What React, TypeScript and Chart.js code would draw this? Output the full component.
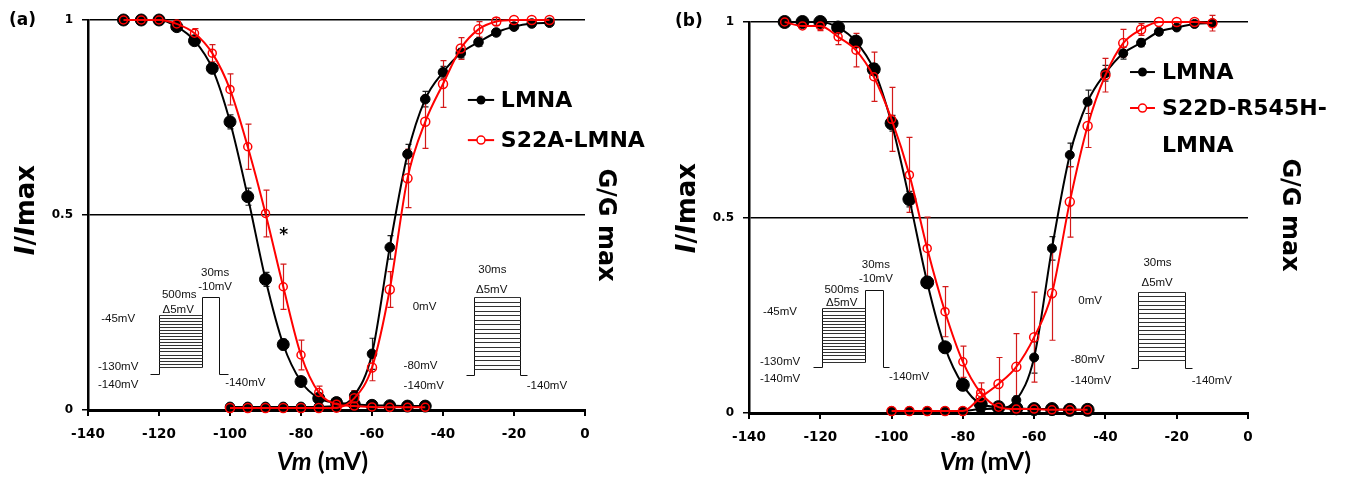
import React, { useEffect, useRef } from "react";
import { Chart, registerables } from "chart.js";

Chart.register(...registerables);

// ---------------- data ----------------
const inactV = [-130, -125, -120, -115, -110, -105, -100, -95, -90, -85, -80, -75, -70, -65, -60, -55, -50, -45];
const actV = [-100, -95, -90, -85, -80, -75, -70, -65, -60, -55, -50, -45, -40, -35, -30, -25, -20, -15, -10];
const xTickValues = [-140, -120, -100, -80, -60, -40, -20, 0];
const yTickValues = [0, 0.5, 1];

// panel (a)
const lmnaInactA = [1.0, 1.0, 1.0, 0.983, 0.947, 0.876, 0.739, 0.547, 0.335, 0.168, 0.073, 0.03, 0.019, 0.015, 0.012, 0.011, 0.01, 0.01];
const lmnaInactErrA = [0, 0, 0, 0.006, 0.008, 0.012, 0.018, 0.022, 0.018, 0.014, 0.01, 0.008, 0.005, 0.004, 0.004, 0.004, 0.004, 0.004];
const s22aInactA = [1.0, 1.0, 1.0, 0.99, 0.966, 0.915, 0.822, 0.675, 0.504, 0.316, 0.141, 0.045, 0.015, 0.01, 0.008, 0.007, 0.007, 0.007];
const s22aInactErrA = [0, 0, 0, 0.006, 0.012, 0.022, 0.04, 0.058, 0.06, 0.058, 0.038, 0.016, 0.006, 0.004, 0.004, 0.004, 0.004, 0.004];
const lmnaActA = [0.008, 0.008, 0.008, 0.008, 0.008, 0.008, 0.01, 0.037, 0.144, 0.417, 0.656, 0.797, 0.866, 0.915, 0.943, 0.968, 0.983, 0.991, 0.993];
const lmnaActErrA = [0.003, 0.003, 0.003, 0.003, 0.003, 0.003, 0.003, 0.012, 0.04, 0.03, 0.025, 0.02, 0.015, 0.012, 0.01, 0.008, 0.005, 0.004, 0.004];
const s22aActA = [0.005, 0.005, 0.005, 0.005, 0.005, 0.005, 0.006, 0.03, 0.109, 0.309, 0.594, 0.739, 0.836, 0.927, 0.976, 0.996, 1.0, 1.0, 1.0];
const s22aActErrA = [0.003, 0.003, 0.003, 0.003, 0.003, 0.003, 0.003, 0.02, 0.034, 0.046, 0.075, 0.068, 0.06, 0.028, 0.02, 0.01, 0.005, 0.003, 0.003];

// panel (b)
const lmnaInactB = [1.0, 1.0, 1.0, 0.986, 0.95, 0.879, 0.741, 0.547, 0.334, 0.168, 0.072, 0.023, 0.015, 0.012, 0.01, 0.01, 0.008, 0.008];
const lmnaInactErrB = [0, 0, 0.004, 0.006, 0.01, 0.014, 0.02, 0.02, 0.015, 0.012, 0.01, 0.006, 0.005, 0.004, 0.004, 0.004, 0.004, 0.004];
const r545InactB = [1.0, 0.99, 0.99, 0.962, 0.928, 0.86, 0.751, 0.609, 0.421, 0.259, 0.131, 0.052, 0.015, 0.01, 0.01, 0.008, 0.008, 0.008];
const r545InactErrB = [0.004, 0.005, 0.012, 0.02, 0.043, 0.063, 0.082, 0.096, 0.08, 0.064, 0.04, 0.025, 0.01, 0.005, 0.005, 0.005, 0.005, 0.005];
const lmnaActB = [0.005, 0.005, 0.005, 0.005, 0.005, 0.01, 0.012, 0.033, 0.142, 0.421, 0.66, 0.796, 0.869, 0.92, 0.947, 0.975, 0.986, 0.995, 0.997];
const lmnaActErrB = [0.003, 0.003, 0.003, 0.003, 0.003, 0.004, 0.005, 0.01, 0.04, 0.03, 0.03, 0.03, 0.02, 0.015, 0.01, 0.008, 0.005, 0.004, 0.004];
const r545ActB = [0.005, 0.005, 0.005, 0.005, 0.005, 0.04, 0.074, 0.118, 0.194, 0.306, 0.54, 0.734, 0.864, 0.946, 0.981, 1.0, 1.0, 1.0, 0.997];
const r545ActErrB = [0.003, 0.003, 0.003, 0.003, 0.003, 0.02, 0.068, 0.085, 0.115, 0.12, 0.09, 0.055, 0.043, 0.035, 0.015, 0.005, 0.003, 0.003, 0.02];

const legendA = ["LMNA", "S22A-LMNA"];
const legendB = ["LMNA", "S22D-R545H-", "LMNA"];

// ---------------- styles ----------------
const BLACK = "#000000";
const RED = "#ff0000";
const RED_ERR = "#d41a1a";
const BOLD_FONT = "DejaVu Sans";
const TITLE_FONT = "Lato";
const INSET_FONT = "Liberation Sans";

type Series = { xs: number[]; ys: number[]; errs: number[]; red: boolean; radius: number };
type Label = { t: string; x: number; y: number; align: CanvasTextAlign };
type InactProto = { x0: number; x1: number; x2: number; x3: number; x4: number; yBase: number; yBottom: number; yTop: number; yPulse: number; steps: number; labels: Label[] };
type ActProto = { x0: number; x1: number; x2: number; x3: number; yBase: number; yBottom: number; yTop: number; steps: number; labels: Label[] };
type PanelCfg = {
  id: string;
  label: string;
  labelPos: [number, number];
  padTop: number;
  padRight: number;
  xHeight: number;
  series: Series[];
  inact: InactProto;
  act: ActProto;
  legendText: string[];
  legend: { lx0: number; lx1: number; tx: number; ys: number[] };
  star?: [number, number];
  yTitlePos: [number, number];
  gTitlePos: [number, number];
  xTitleDx: number;
  xTitleY: number;
};

const panelA: PanelCfg = {
  id: "a",
  label: "(a)",
  labelPos: [9, 21],
  padTop: 20,
  padRight: 91,
  xHeight: 69,
  series: [
    { xs: inactV, ys: lmnaInactA, errs: lmnaInactErrA, red: false, radius: 6 },
    { xs: actV, ys: lmnaActA, errs: lmnaActErrA, red: false, radius: 4.8 },
    { xs: inactV, ys: s22aInactA, errs: s22aInactErrA, red: true, radius: 4 },
    { xs: actV, ys: s22aActA, errs: s22aActErrA, red: true, radius: 4.5 },
  ],
  inact: {
    x0: -122.5, x1: -119.9, x2: -107.8, x3: -103.0, x4: -100.5,
    yBase: 0.092, yBottom: 0.111, yTop: 0.244, yPulse: 0.29, steps: 18,
    labels: [
      { t: "30ms", x: -104.2, y: 0.351, align: "center" },
      { t: "-10mV", x: -104.2, y: 0.315, align: "center" },
      { t: "500ms", x: -114.3, y: 0.295, align: "center" },
      { t: "Δ5mV", x: -114.6, y: 0.256, align: "center" },
      { t: "-45mV", x: -131.5, y: 0.233, align: "center" },
      { t: "-130mV", x: -131.5, y: 0.11, align: "center" },
      { t: "-140mV", x: -131.5, y: 0.064, align: "center" },
      { t: "-140mV", x: -95.7, y: 0.069, align: "center" },
    ],
  },
  act: {
    x0: -33.6, x1: -31.4, x2: -18.3, x3: -16.4,
    yBase: 0.09, yBottom: 0.105, yTop: 0.289, steps: 17,
    labels: [
      { t: "30ms", x: -26.1, y: 0.359, align: "center" },
      { t: "Δ5mV", x: -26.3, y: 0.308, align: "center" },
      { t: "0mV", x: -45.2, y: 0.265, align: "center" },
      { t: "-80mV", x: -51.1, y: 0.113, align: "left" },
      { t: "-140mV", x: -51.1, y: 0.062, align: "left" },
      { t: "-140mV", x: -16.4, y: 0.062, align: "left" },
    ],
  },
  legendText: legendA,
  legend: { lx0: -33.0, lx1: -25.6, tx: -23.7, ys: [0.795, 0.692] },
  star: [-84.9, 0.454],
  yTitlePos: [27, 210],
  gTitlePos: [605, 225],
  xTitleDx: -14,
  xTitleY: 462,
};

const panelB: PanelCfg = {
  id: "b",
  label: "(b)",
  labelPos: [14, 22],
  padTop: 22,
  padRight: 104,
  xHeight: 66,
  series: [
    { xs: inactV, ys: lmnaInactB, errs: lmnaInactErrB, red: false, radius: 6.5 },
    { xs: actV, ys: lmnaActB, errs: lmnaActErrB, red: false, radius: 4.5 },
    { xs: inactV, ys: r545InactB, errs: r545InactErrB, red: true, radius: 4 },
    { xs: actV, ys: r545ActB, errs: r545ActErrB, red: true, radius: 4.5 },
  ],
  inact: {
    x0: -122.1, x1: -119.6, x2: -107.5, x3: -102.5, x4: -100.6,
    yBase: 0.118, yBottom: 0.131, yTop: 0.268, yPulse: 0.315, steps: 18,
    labels: [
      { t: "30ms", x: -104.4, y: 0.379, align: "center" },
      { t: "-10mV", x: -104.4, y: 0.342, align: "center" },
      { t: "500ms", x: -114.0, y: 0.315, align: "center" },
      { t: "Δ5mV", x: -114.0, y: 0.282, align: "center" },
      { t: "-45mV", x: -131.3, y: 0.259, align: "center" },
      { t: "-130mV", x: -131.3, y: 0.13, align: "center" },
      { t: "-140mV", x: -131.3, y: 0.087, align: "center" },
      { t: "-140mV", x: -95.1, y: 0.093, align: "center" },
    ],
  },
  act: {
    x0: -32.9, x1: -30.9, x2: -17.7, x3: -15.8,
    yBase: 0.114, yBottom: 0.136, yTop: 0.309, steps: 17,
    labels: [
      { t: "30ms", x: -25.4, y: 0.383, align: "center" },
      { t: "Δ5mV", x: -25.5, y: 0.332, align: "center" },
      { t: "0mV", x: -44.3, y: 0.287, align: "center" },
      { t: "-80mV", x: -49.7, y: 0.136, align: "left" },
      { t: "-140mV", x: -49.7, y: 0.083, align: "left" },
      { t: "-140mV", x: -15.8, y: 0.083, align: "left" },
    ],
  },
  legendText: legendB,
  legend: { lx0: -33.1, lx1: -26.1, tx: -24.1, ys: [0.872, 0.78, 0.685] },
  yTitlePos: [27, 208],
  gTitlePos: [628, 215],
  xTitleDx: -13,
  xTitleY: 462,
};

function crisp(v: number) {
  return Math.round(v) + 0.5;
}

function overlayPlugin(p: PanelCfg) {
  return {
    id: "overlay_" + p.id,
    beforeDatasetsDraw(chart: any) {
      const { ctx } = chart;
      const xs = chart.scales.x;
      const ys = chart.scales.y;
      ctx.save();
      for (const s of p.series) {
        ctx.strokeStyle = s.red ? RED_ERR : "#222";
        ctx.lineWidth = 1.2;
        s.xs.forEach((v, i) => {
          const e = s.errs[i];
          if (!e) return;
          const px = crisp(xs.getPixelForValue(v));
          const top = ys.getPixelForValue(s.ys[i] + e);
          const bot = ys.getPixelForValue(s.ys[i] - e);
          if (bot - top < 4) return;
          ctx.beginPath();
          ctx.moveTo(px, top);
          ctx.lineTo(px, bot);
          ctx.moveTo(px - 3, top);
          ctx.lineTo(px + 3, top);
          ctx.moveTo(px - 3, bot);
          ctx.lineTo(px + 3, bot);
          ctx.stroke();
        });
      }
      ctx.restore();
    },
    afterDatasetsDraw(chart: any) {
      const { ctx } = chart;
      const xs = chart.scales.x;
      const ys = chart.scales.y;
      const X = (v: number) => crisp(xs.getPixelForValue(v));
      const Y = (v: number) => crisp(ys.getPixelForValue(v));
      ctx.save();
      // inactivation protocol
      const a = p.inact;
      ctx.strokeStyle = "#111";
      ctx.lineWidth = 1;
      ctx.beginPath();
      ctx.moveTo(X(a.x0), Y(a.yBase));
      ctx.lineTo(X(a.x1), Y(a.yBase));
      ctx.lineTo(X(a.x1), Y(a.yTop));
      ctx.moveTo(X(a.x2), Y(a.yBottom));
      ctx.lineTo(X(a.x2), Y(a.yPulse));
      ctx.lineTo(X(a.x3), Y(a.yPulse));
      ctx.lineTo(X(a.x3), Y(a.yBase));
      ctx.lineTo(X(a.x4), Y(a.yBase));
      ctx.stroke();
      ctx.strokeStyle = "#333";
      ctx.beginPath();
      for (let i = 0; i < a.steps; i++) {
        const yy = Y(a.yTop + ((a.yBottom - a.yTop) * i) / (a.steps - 1));
        ctx.moveTo(X(a.x1), yy);
        ctx.lineTo(X(a.x2), yy);
      }
      ctx.stroke();
      // activation protocol
      const b = p.act;
      ctx.strokeStyle = "#111";
      ctx.beginPath();
      ctx.moveTo(X(b.x0), Y(b.yBase));
      ctx.lineTo(X(b.x1), Y(b.yBase));
      ctx.lineTo(X(b.x1), Y(b.yTop));
      ctx.moveTo(X(b.x2), Y(b.yTop));
      ctx.lineTo(X(b.x2), Y(b.yBase));
      ctx.lineTo(X(b.x3), Y(b.yBase));
      ctx.stroke();
      ctx.strokeStyle = "#333";
      ctx.beginPath();
      for (let i = 0; i < b.steps; i++) {
        const yy = Y(b.yTop + ((b.yBottom - b.yTop) * i) / (b.steps - 1));
        ctx.moveTo(X(b.x1), yy);
        ctx.lineTo(X(b.x2), yy);
      }
      ctx.stroke();
      // inset labels
      ctx.fillStyle = "#111";
      ctx.font = `11.5px "${INSET_FONT}"`;
      ctx.textBaseline = "middle";
      for (const l of [...a.labels, ...b.labels]) {
        ctx.textAlign = l.align;
        ctx.fillText(l.t, xs.getPixelForValue(l.x), ys.getPixelForValue(l.y));
      }
      // legend
      const lg = p.legend;
      const entries = [
        { red: false, y: lg.ys[0] },
        { red: true, y: lg.ys[1] },
      ];
      entries.forEach((en) => {
        const yy = ys.getPixelForValue(en.y);
        const x0 = xs.getPixelForValue(lg.lx0);
        const x1 = xs.getPixelForValue(lg.lx1);
        ctx.strokeStyle = en.red ? RED : BLACK;
        ctx.lineWidth = 2;
        ctx.beginPath();
        ctx.moveTo(x0, yy);
        ctx.lineTo(x1, yy);
        ctx.stroke();
        ctx.beginPath();
        ctx.arc((x0 + x1) / 2, yy, en.red ? 4 : 4.5, 0, Math.PI * 2);
        if (en.red) {
          ctx.fillStyle = "#fff";
          ctx.fill();
          ctx.lineWidth = 1.5;
          ctx.stroke();
        } else {
          ctx.fillStyle = BLACK;
          ctx.fill();
        }
      });
      ctx.fillStyle = "#000";
      ctx.font = `bold 22px "${BOLD_FONT}"`;
      ctx.textAlign = "left";
      ctx.textBaseline = "middle";
      p.legendText.forEach((t, i) => {
        ctx.fillText(t, xs.getPixelForValue(lg.tx), ys.getPixelForValue(lg.ys[i]) + 1);
      });
      if (p.star) {
        ctx.font = `bold 17px "${BOLD_FONT}"`;
        ctx.textAlign = "center";
        ctx.fillText("*", xs.getPixelForValue(p.star[0]), ys.getPixelForValue(p.star[1]) + 3);
      }
      ctx.restore();
    },
    afterDraw(chart: any) {
      const { ctx, chartArea } = chart;
      ctx.save();
      ctx.fillStyle = "#000";
      ctx.textBaseline = "middle";
      // x title
      const f1 = `italic bold 25px "${TITLE_FONT}"`;
      const f2 = `bold 25px "${TITLE_FONT}"`;
      ctx.font = f1;
      const w1 = ctx.measureText("Vm").width;
      ctx.font = f2;
      const w2 = ctx.measureText(" (mV)").width;
      const cx = (chartArea.left + chartArea.right) / 2 + p.xTitleDx;
      const sx = cx - (w1 + w2) / 2;
      ctx.textAlign = "left";
      ctx.font = f1;
      ctx.fillText("Vm", sx, p.xTitleY);
      ctx.font = f2;
      ctx.fillText(" (mV)", sx + w1, p.xTitleY);
      // y title I/Imax
      const parts: [string, string][] = [
        ["I", `italic bold 26px "${BOLD_FONT}"`],
        ["/", `bold 26px "${BOLD_FONT}"`],
        ["I", `italic bold 26px "${BOLD_FONT}"`],
        ["max", `bold 26px "${BOLD_FONT}"`],
      ];
      let tw = 0;
      const ws = parts.map(([t, f]) => {
        ctx.font = f;
        const w = ctx.measureText(t).width;
        tw += w;
        return w;
      });
      ctx.save();
      ctx.translate(p.yTitlePos[0], p.yTitlePos[1]);
      ctx.rotate(-Math.PI / 2);
      let px = -tw / 2;
      parts.forEach(([t, f], i) => {
        ctx.font = f;
        ctx.fillText(t, px, 0);
        px += ws[i];
      });
      ctx.restore();
      // right title
      ctx.save();
      ctx.translate(p.gTitlePos[0], p.gTitlePos[1]);
      ctx.rotate(Math.PI / 2);
      ctx.font = `bold 24px "${BOLD_FONT}"`;
      ctx.textAlign = "center";
      ctx.fillText("G/G max", 0, 0);
      ctx.restore();
      // panel label
      ctx.font = `bold 17px "${BOLD_FONT}"`;
      ctx.textAlign = "left";
      ctx.fillText(p.label, p.labelPos[0], p.labelPos[1]);
      ctx.restore();
    },
  };
}

function buildChart(canvas: HTMLCanvasElement, p: PanelCfg) {
  const datasets = p.series.map((s) => ({
    data: s.xs.map((x, i) => ({ x, y: s.ys[i] })),
    borderColor: s.red ? RED : BLACK,
    borderWidth: 2,
    pointRadius: s.radius,
    pointHoverRadius: s.radius,
    pointBackgroundColor: s.red ? "rgba(255,255,255,0)" : BLACK,
    pointBorderColor: s.red ? RED : BLACK,
    pointBorderWidth: s.red ? 1.5 : 1,
    cubicInterpolationMode: "monotone" as const,
    fill: false,
    clip: false as any,
    order: s.red ? 0 : 1,
  }));
  return new Chart(canvas, {
    type: "line",
    data: { datasets },
    options: {
      animation: false,
      responsive: false,
      maintainAspectRatio: false,
      events: [],
      layout: { padding: { left: 0, right: p.padRight, top: p.padTop, bottom: 0 } },
      plugins: { legend: { display: false }, tooltip: { enabled: false } },
      scales: {
        x: {
          type: "linear",
          min: -140,
          max: 0,
          afterBuildTicks: (s: any) => {
            s.ticks = xTickValues.map((v) => ({ value: v }));
          },
          afterFit: (s: any) => {
            s.height = p.xHeight;
          },
          ticks: {
            color: "#000",
            font: { family: BOLD_FONT, weight: "bold", size: 13.5 },
            padding: 10,
            maxRotation: 0,
            autoSkip: false,
            callback: (v: any) => String(v),
          },
          grid: { display: true, drawOnChartArea: false, drawTicks: true, tickLength: 6, color: "#000", lineWidth: 2 },
          border: { display: true, color: "#000", width: 3 },
        },
        y: {
          type: "linear",
          min: 0,
          max: 1,
          afterBuildTicks: (s: any) => {
            s.ticks = yTickValues.map((v) => ({ value: v }));
          },
          afterFit: (s: any) => {
            s.width = 88;
          },
          ticks: {
            color: "#000",
            font: { family: BOLD_FONT, weight: "bold", size: 12 },
            padding: 9,
            callback: (v: any) => String(v),
          },
          grid: { display: true, drawTicks: true, tickLength: 6, color: "#000", lineWidth: 1.5 },
          border: { display: true, color: "#000", width: 2.5 },
        },
      },
    } as any,
    plugins: [overlayPlugin(p)],
  });
}

function PanelCanvas({ panel, left, width }: { panel: PanelCfg; left: number; width: number }) {
  const ref = useRef<HTMLCanvasElement>(null);
  useEffect(() => {
    if (!ref.current) return;
    const c = buildChart(ref.current, panel);
    return () => c.destroy();
  }, [panel]);
  return (
    <canvas
      ref={ref}
      width={width}
      height={479}
      style={{ position: "absolute", left, top: 0, width, height: 479 }}
    />
  );
}

export default function App() {
  return (
    <div style={{ position: "absolute", left: 0, top: 0, width: 1352, height: 479, background: "#fff", overflow: "hidden" }}>
      <PanelCanvas panel={panelA} left={0} width={676} />
      <PanelCanvas panel={panelB} left={661} width={691} />
    </div>
  );
}
